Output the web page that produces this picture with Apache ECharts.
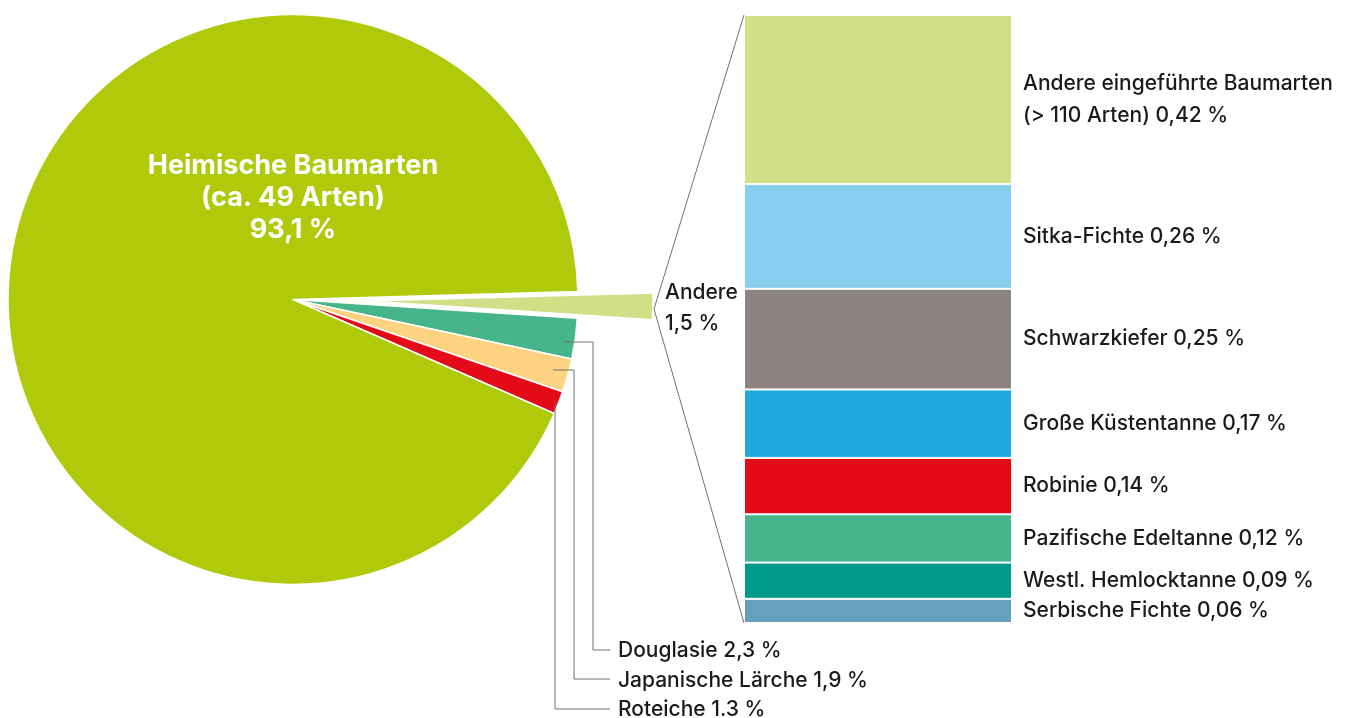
<!DOCTYPE html>
<html>
<head>
<meta charset="utf-8">
<script src="https://cdn.jsdelivr.net/npm/echarts@6/dist/echarts.min.js"></script>
<style>
html,body{margin:0;padding:0;background:#fff;}
#chart{width:1352px;height:718px;}
</style>
</head>
<body>
<div id="chart"></div>
<script>
// Pie data (share of forest area, %)
const pieNames = ['Andere', 'Douglasie', 'Japanische Lärche', 'Roteiche', 'Heimische Baumarten'];
const pieValues = [1.5, 2.3, 1.9, 1.3, 93.1];
const pieLabels = ['1,5 %', '2,3 %', '1,9 %', '1.3 %', '93,1 %'];
const pieColors = ['#d3df87', '#47b58b', '#fdd382', '#e20b17', '#afca0b'];

// Breakdown of "Andere"
const barNames = ['Andere eingeführte Baumarten\n(> 110 Arten)', 'Sitka-Fichte', 'Schwarzkiefer', 'Große Küstentanne', 'Robinie', 'Pazifische Edeltanne', 'Westl. Hemlocktanne', 'Serbische Fichte'];
const barValues = [0.42, 0.26, 0.25, 0.17, 0.14, 0.12, 0.09, 0.06];
const barLabels = ['0,42 %', '0,26 %', '0,25 %', '0,17 %', '0,14 %', '0,12 %', '0,09 %', '0,06 %'];
const barColors = ['#d3df87', '#87cfee', '#8c8281', '#1ea8e0', '#e20b17', '#47b58b', '#009a8c', '#66a0bc'];

const FONT = 'Inter';
const TXT = '#1a1a1a';
const LINE = '#707070';
const FS = 21;

const chart = echarts.init(document.getElementById('chart'), null, {renderer: 'canvas'});

const barTotal = barValues.reduce((a, b) => a + b, 0);

const barSeries = barValues.map((v, i) => ({
  type: 'bar',
  stack: 'andere',
  name: barNames[i],
  barWidth: '100%',
  data: [v],
  itemStyle: {color: barColors[i], borderColor: '#fff', borderWidth: 1},
  label: {
    show: true,
    position: 'right',
    distance: 11,
    formatter: barNames[i] + ' ' + barLabels[i],
    color: TXT,
    fontFamily: FONT,
    fontWeight: 500,
    fontSize: FS,
    lineHeight: 31.5,
    align: 'left'
  },
  emphasis: {disabled: true},
  silent: true
}));

const pieData = pieNames.map((n, i) => ({
  name: n,
  value: pieValues[i],
  selected: i === 0,
  itemStyle: {color: pieColors[i]}
}));

const txtFont = '500 ' + FS + 'px ' + FONT;

const option = {
  animation: false,
  grid: {left: 744, top: 15, width: 268, height: 608},
  xAxis: {type: 'category', data: ['Andere'], show: false},
  yAxis: {type: 'value', min: 0, max: barTotal, inverse: true, show: false},
  series: [
    {
      type: 'pie',
      center: [293, 299.5],
      radius: 285,
      startAngle: 1.6,
      clockwise: true,
      selectedMode: 'single',
      selectedOffset: 75,
      avoidLabelOverlap: false,
      label: {show: false},
      labelLine: {show: false},
      itemStyle: {borderColor: '#fff', borderWidth: 1.5},
      emphasis: {disabled: true},
      silent: true,
      data: pieData
    }
  ].concat(barSeries),
  graphic: [
    {
      type: 'text', x: 293, y: 198, z: 100,
      style: {
        text: pieNames[4] + '\n(ca. 49 Arten)\n' + pieLabels[4],
        fill: '#fff', font: 'bold 27px ' + FONT, lineHeight: 32,
        align: 'center', verticalAlign: 'middle'
      }
    },
    {
      type: 'text', x: 665, y: 308.5, z: 100,
      style: {
        text: pieNames[0] + '\n' + pieLabels[0],
        fill: TXT, font: txtFont, lineHeight: 31,
        align: 'left', verticalAlign: 'middle'
      }
    },
    {
      type: 'polyline', z: 100,
      shape: {points: [[744, 15], [654, 309], [744, 623]]},
      style: {stroke: LINE, lineWidth: 1, fill: null}
    },
    {
      type: 'polyline', z: 100,
      shape: {points: [[563, 342], [593, 342], [593, 650], [610, 650]]},
      style: {stroke: LINE, lineWidth: 1, fill: null}
    },
    {
      type: 'polyline', z: 100,
      shape: {points: [[553, 370], [574, 370], [574, 679], [610, 679]]},
      style: {stroke: LINE, lineWidth: 1, fill: null}
    },
    {
      type: 'polyline', z: 100,
      shape: {points: [[555, 401], [555, 709], [610, 709]]},
      style: {stroke: LINE, lineWidth: 1, fill: null}
    },
    {
      type: 'text', x: 618, y: 651, z: 100,
      style: {text: pieNames[1] + ' ' + pieLabels[1], fill: TXT, font: txtFont, align: 'left', verticalAlign: 'middle'}
    },
    {
      type: 'text', x: 618, y: 681, z: 100,
      style: {text: pieNames[2] + ' ' + pieLabels[2], fill: TXT, font: txtFont, align: 'left', verticalAlign: 'middle'}
    },
    {
      type: 'text', x: 618, y: 710, z: 100,
      style: {text: pieNames[3] + ' ' + pieLabels[3], fill: TXT, font: txtFont, align: 'left', verticalAlign: 'middle'}
    }
  ]
};
chart.setOption(option);
</script>
</body>
</html>
